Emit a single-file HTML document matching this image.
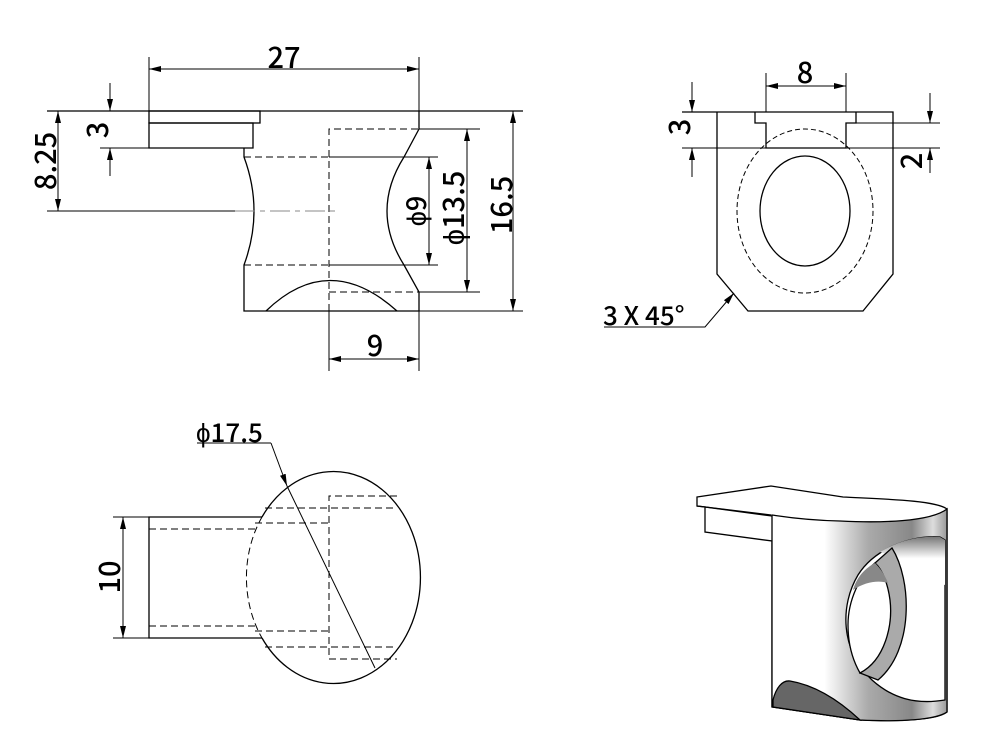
<!DOCTYPE html>
<html><head><meta charset="utf-8"><style>
html,body{margin:0;padding:0;background:#fff;}
svg{display:block;}
text{font-family:"Noto Sans CJK JP","Liberation Sans",sans-serif;fill:#000;font-weight:500;}
</style></head><body>
<svg width="1000" height="750" viewBox="0 0 1000 750" xmlns="http://www.w3.org/2000/svg">
<defs>
<marker id="a" viewBox="0 0 12 6" refX="12" refY="3" markerWidth="12" markerHeight="6" orient="auto-start-reverse" markerUnits="userSpaceOnUse">
<path d="M0,0 L12,3 L0,6 Z" fill="#000"/></marker>
<linearGradient id="cyl" x1="0" x2="1" y1="0" y2="0">
<stop offset="0" stop-color="#fff"/><stop offset="0.3" stop-color="#fff"/><stop offset="0.55" stop-color="#aaa"/><stop offset="0.8" stop-color="#888"/><stop offset="0.92" stop-color="#ddd"/><stop offset="1" stop-color="#999"/></linearGradient>
<linearGradient id="hole" x1="0" x2="0" y1="0" y2="1">
<stop offset="0" stop-color="#777"/><stop offset="0.45" stop-color="#fff"/><stop offset="1" stop-color="#fff"/></linearGradient>
</defs>
<g fill="none" stroke="#000" stroke-width="1.3">
<line x1="47" y1="111" x2="523" y2="111"/>
<rect x="149" y="111" width="111" height="12"/>
<path d="M149,123 H253 V148 H149 Z"/>
<path d="M244,148 V157 Q264,211 244,265 V311 H419 V292 L404,265 Q370,211 404,157 L419,129 V111"/>
<path d="M266,311 Q329,250 397,311"/>
<g stroke-dasharray="7,4" stroke-width="1">
<path d="M329,311 V129 H419"/>
<line x1="244" y1="157" x2="329" y2="157"/>
<line x1="244" y1="265" x2="329" y2="265"/>
<line x1="329" y1="292" x2="419" y2="292"/>
</g>
<g stroke-width="1">
<line x1="329" y1="157" x2="438" y2="157"/>
<line x1="329" y1="265" x2="438" y2="265"/>
<line x1="419" y1="129" x2="480" y2="129"/>
<line x1="419" y1="292" x2="480" y2="292"/>
<line x1="419" y1="311" x2="523" y2="311"/>
<line x1="47" y1="211" x2="235" y2="211"/>
<line x1="235" y1="211" x2="340" y2="211" stroke="#888" stroke-dasharray="20,5,5,5"/>
<line x1="149" y1="57" x2="149" y2="111"/>
<line x1="419" y1="57" x2="419" y2="111"/>
<line x1="149" y1="69" x2="419" y2="69" marker-start="url(#a)" marker-end="url(#a)"/>
<line x1="58" y1="111" x2="58" y2="211" marker-start="url(#a)" marker-end="url(#a)"/>
<line x1="100" y1="148" x2="149" y2="148"/>
<line x1="110" y1="83" x2="110" y2="111" marker-end="url(#a)"/>
<line x1="110" y1="176" x2="110" y2="148" marker-end="url(#a)"/>
<line x1="429" y1="157" x2="429" y2="265" marker-start="url(#a)" marker-end="url(#a)"/>
<line x1="467" y1="129" x2="467" y2="292" marker-start="url(#a)" marker-end="url(#a)"/>
<line x1="513" y1="111" x2="513" y2="311" marker-start="url(#a)" marker-end="url(#a)"/>
<line x1="329" y1="311" x2="329" y2="371"/>
<line x1="419" y1="311" x2="419" y2="371"/>
<line x1="329" y1="359" x2="419" y2="359" marker-start="url(#a)" marker-end="url(#a)"/>
</g>
<path d="M682,112 H893 V274 L863,311 H748 L717,274 V112"/>
<path d="M755,112 V123 H766 V148 H846 V123 H856 V112"/>
<g stroke-width="1">
<line x1="856" y1="123" x2="940" y2="123"/>
<line x1="682" y1="148" x2="940" y2="148"/>
<line x1="766" y1="73" x2="766" y2="112"/>
<line x1="846" y1="73" x2="846" y2="112"/>
<line x1="766" y1="86" x2="846" y2="86" marker-start="url(#a)" marker-end="url(#a)"/>
<line x1="692" y1="82" x2="692" y2="112" marker-end="url(#a)"/>
<line x1="692" y1="177" x2="692" y2="148" marker-end="url(#a)"/>
<line x1="930" y1="93" x2="930" y2="123" marker-end="url(#a)"/>
<line x1="930" y1="173" x2="930" y2="148" marker-end="url(#a)"/>
<path d="M604,327 H705 L734,293" marker-end="url(#a)"/>
</g>
<ellipse cx="805" cy="211" rx="68" ry="82" stroke-width="1" stroke-dasharray="5,3"/>
<ellipse cx="805" cy="211" rx="45" ry="55"/>
<path d="M262,517 H149 V638 H262"/>
<path d="M262,517 A87,106 0 1 1 262,638"/>
<path d="M262,517 A87,106 0 0 0 262,638" stroke-width="1" stroke-dasharray="7,4"/>
<g stroke-width="1" stroke-dasharray="7,4">
<line x1="149" y1="529" x2="255" y2="529"/>
<line x1="255" y1="523" x2="329" y2="523"/>
<line x1="265" y1="508" x2="397" y2="508"/>
<line x1="149" y1="626" x2="255" y2="626"/>
<line x1="255" y1="631" x2="329" y2="631"/>
<line x1="265" y1="647" x2="397" y2="647"/>
<path d="M397,496 H329 V659 H397"/>
</g>
<g stroke-width="1">
<line x1="113" y1="517" x2="149" y2="517"/>
<line x1="113" y1="638" x2="149" y2="638"/>
<line x1="123" y1="517" x2="123" y2="638" marker-start="url(#a)" marker-end="url(#a)"/>
<line x1="197" y1="443" x2="271" y2="443"/>
<line x1="271" y1="443" x2="287" y2="486" marker-end="url(#a)"/>
<line x1="287" y1="486" x2="375" y2="668"/>
</g>
</g>
<g stroke="#000" stroke-width="1.3">
<path d="M697,497 L771,486 L843,497 C880,499 935,500 947,509 L947,712 C935,722 880,721 860,720 L772,707 L772,541 L705,532 L705,507 L697,506 Z" fill="#fff"/>
<path d="M772,515 L772,707 L860,720 C900,722 935,720 947,712 L947,509 C930,522 880,523 840,521 C800,520 780,516 772,515 Z" fill="url(#cyl)"/>
<path d="M697,506 L771,515" fill="none"/>
<path d="M705,507 L772,516" fill="none"/>
<path d="M773,700 C776,688 782,680 790,681 C820,686 845,706 860,720 L773,707 Z" fill="#666"/>
<path d="M940,537 C912,535 875,548 858,575 C840,605 840,650 872,680 C892,698 915,705 945,700 L945,540 Z" fill="#fff"/>
<path d="M940,537 C915,535 895,543 880,552 C905,560 920,575 945,585 L945,540 Z" fill="url(#hole)" stroke="none"/>
<path d="M892,548 C912,580 914,650 878,680 L860,673 C888,645 890,590 875,563 Z" fill="#aaa"/>
<path d="M875,563 C860,575 848,600 848,625 C848,650 856,666 860,673 C885,660 893,625 890,600 C888,585 883,570 875,563 Z" fill="#fff"/>
<path d="M875,563 C862,570 856,580 853,590 C865,582 878,580 888,583 C885,575 880,568 875,563 Z" fill="#888" stroke="none"/>
</g>
<g font-size="29">
<text x="284" y="68" text-anchor="middle">27</text>
<text x="375" y="356" text-anchor="middle">9</text>
<text x="805" y="83" text-anchor="middle">8</text>
<text x="603" y="325" font-size="26">3 X 45°</text>
<text x="196" y="442" font-size="26">ϕ17.5</text>
<text transform="translate(56,161) rotate(-90)" text-anchor="middle">8.25</text>
<text transform="translate(108,130) rotate(-90)" text-anchor="middle">3</text>
<text transform="translate(426,211) rotate(-90)" text-anchor="middle" font-size="27">ϕ9</text>
<text transform="translate(464,208) rotate(-90)" text-anchor="middle">ϕ13.5</text>
<text transform="translate(512,205) rotate(-90)" text-anchor="middle">16.5</text>
<text transform="translate(690,127) rotate(-90)" text-anchor="middle">3</text>
<text transform="translate(922,161) rotate(-90)" text-anchor="middle">2</text>
<text transform="translate(120,577) rotate(-90)" text-anchor="middle">10</text>
</g>
</svg>
</body></html>
